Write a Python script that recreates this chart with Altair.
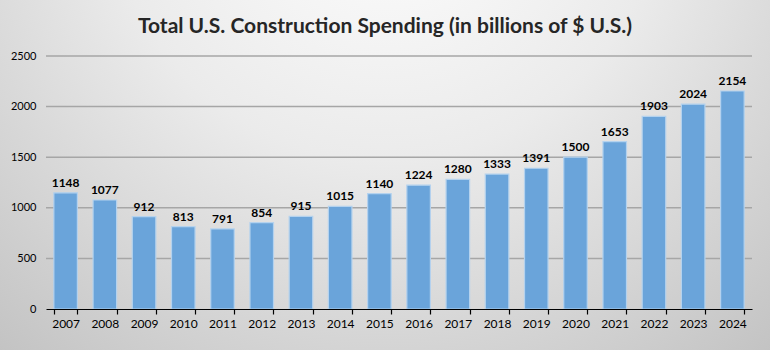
import altair as alt
import pandas as pd

years = [str(y) for y in range(2007, 2025)]
values = [1148, 1077, 912, 813, 791, 854, 915, 1015, 1140, 1224, 1280, 1333, 1391, 1500, 1653, 1903, 2024, 2154]
y_ticks = [0, 500, 1000, 1500, 2000, 2500]

df = pd.DataFrame({"year": years, "value": values})
grid_df = pd.DataFrame({"value": y_ticks[1:]})

FONT = "Lato"
W, H = 706, 253
PAD = {"left": 46, "top": 56, "right": 18, "bottom": 41}

bg = alt.Chart(pd.DataFrame({"a": [0]})).mark_rect(
    fill=alt.Gradient(
        gradient="radial",
        stops=[alt.GradientStop(color="#ffffff", offset=0),
               alt.GradientStop(color="#ebebeb", offset=0.45),
               alt.GradientStop(color="#c2c2c2", offset=1)],
        x1=0.5, y1=0.12, r1=0, x2=0.5, y2=0.12, r2=0.8,
    )
).encode(
    x=alt.value(-PAD["left"]), x2=alt.value(W + PAD["right"]),
    y=alt.value(-PAD["top"]), y2=alt.value(H + PAD["bottom"]),
)

y_scale = alt.Scale(domain=[0, 2500], nice=False)
y_axis = alt.Axis(title=None, values=y_ticks, format="d", labelFontSize=11, labelColor="#000000",
                  labelFont=FONT, labelPadding=10, domain=False, ticks=False,
                  grid=False, zindex=2)

grid = alt.Chart(grid_df).mark_rule(color="#a6a6a6", strokeWidth=1.5).encode(
    y=alt.Y("value:Q", scale=y_scale, axis=y_axis)
)

x_enc = alt.X("year:N", sort=years,
              scale=alt.Scale(paddingInner=0.4, paddingOuter=0.2),
              axis=alt.Axis(title=None, labelAngle=0, labelFontSize=12, labelColor="#000000",
                            labelFont=FONT, labelPadding=4, domainColor="#000000", domainWidth=1.2,
                            tickColor="#000000", tickSize=5, tickWidth=1.2, tickBand="extent",
                            grid=False, zindex=2))
y_enc = alt.Y("value:Q", scale=y_scale, axis=y_axis)

bars = alt.Chart(df).mark_bar(
    color="#6aa4da", stroke="#b4d2ee", strokeWidth=1.2
).encode(x=x_enc, y=y_enc)

labels = alt.Chart(df).mark_text(
    dy=-10, fontSize=12, fontWeight="bold", font=FONT, color="#000000"
).encode(x=alt.X("year:N", sort=years), y=alt.Y("value:Q", axis=y_axis), text="value:Q")

chart = alt.layer(bg, grid, bars, labels).properties(
    width=W, height=H,
    padding=PAD,
    autosize=alt.AutoSizeParams(type="none"),
    background="#c8c8c8",
    title=alt.TitleParams(
        "Total U.S. Construction Spending (in billions of $ U.S.)",
        fontSize=21, font=FONT, fontWeight="bold", color="#262626",
        anchor="middle", baseline="alphabetic", dx=-14, offset=0, dy=54, zindex=2,
    ),
).configure_view(stroke=None)

chart.save("out.html", embed_options={"renderer": "svg", "actions": False})
